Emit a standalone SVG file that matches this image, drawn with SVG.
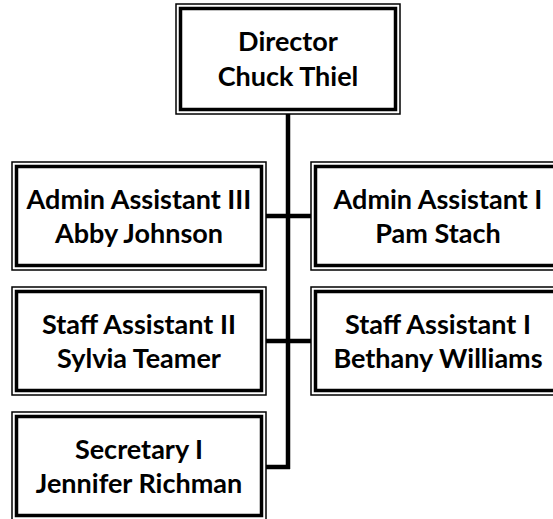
<svg xmlns="http://www.w3.org/2000/svg" width="553" height="519" viewBox="0 0 553 519">
<style>
.o{fill:#fff;stroke:#000;stroke-width:1.5}
.i{fill:none;stroke:#000;stroke-width:3.5}
.t{font-family:Lato,"Liberation Sans",sans-serif;font-weight:700;font-size:27px;fill:#000;text-anchor:middle}
.c{stroke:#000;stroke-width:4.5;fill:none}
</style>
<rect width="553" height="519" fill="#fff"/>
<g id="connectors">
<line class="c" x1="288" y1="114" x2="288" y2="469"/>
<line class="c" x1="266" y1="216" x2="311" y2="216"/>
<line class="c" x1="266" y1="341" x2="311" y2="341"/>
<line class="c" x1="266" y1="467" x2="290" y2="467"/>
</g>
<g id="director">
<rect class="o" x="176" y="4" width="224" height="110"/>
<rect class="i" x="180.5" y="8.5" width="215" height="101"/>
<text class="t" x="288" y="51">Director</text>
<text class="t" x="288" y="86">Chuck Thiel</text>
</g>
<g id="admin3">
<rect class="o" x="12" y="162" width="254" height="108"/>
<rect class="i" x="16.5" y="166.5" width="245" height="99"/>
<text class="t" x="139" y="209">Admin Assistant III</text>
<text class="t" x="139" y="243">Abby Johnson</text>
</g>
<g id="admin1">
<rect class="o" x="311" y="162" width="254" height="108"/>
<rect class="i" x="315.5" y="166.5" width="245" height="99"/>
<text class="t" x="438" y="209">Admin Assistant I</text>
<text class="t" x="438" y="243">Pam Stach</text>
</g>
<g id="staff2">
<rect class="o" x="12" y="287" width="254" height="108"/>
<rect class="i" x="16.5" y="291.5" width="245" height="99"/>
<text class="t" x="139" y="334">Staff Assistant II</text>
<text class="t" x="139" y="368">Sylvia Teamer</text>
</g>
<g id="staff1">
<rect class="o" x="311" y="287" width="254" height="108"/>
<rect class="i" x="315.5" y="291.5" width="245" height="99"/>
<text class="t" x="438" y="334">Staff Assistant I</text>
<text class="t" x="438" y="368">Bethany Williams</text>
</g>
<g id="secretary">
<rect class="o" x="12" y="412" width="254" height="108"/>
<rect class="i" x="16.5" y="416.5" width="245" height="99"/>
<text class="t" x="139" y="459">Secretary I</text>
<text class="t" x="139" y="493">Jennifer Richman</text>
</g>
</svg>
